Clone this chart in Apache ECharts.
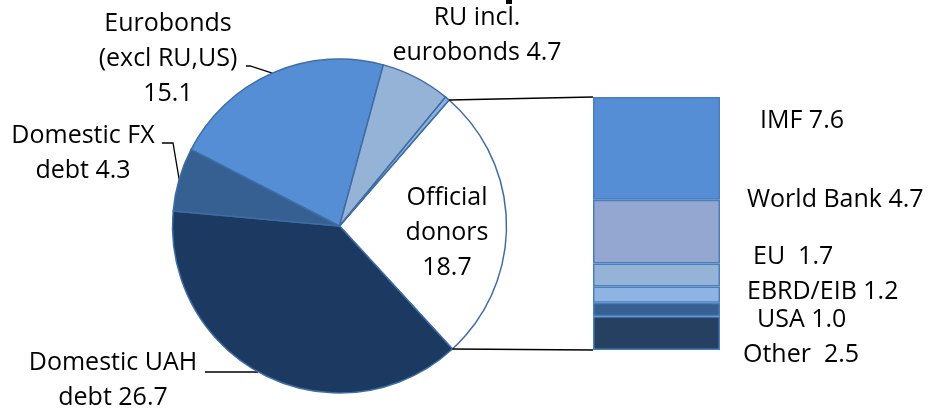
<!DOCTYPE html>
<html>
<head>
<meta charset="utf-8">
<script src="https://cdn.jsdelivr.net/npm/echarts@6/dist/echarts.min.js"></script>
<style>
  html, body { margin: 0; padding: 0; background: #fff; }
  #chart { width: 929px; height: 411px; }
</style>
</head>
<body>
<div id="chart"></div>
<script>
// Public debt composition (pie) with breakdown of official donors (stacked bar)
const pieNames = ['Official donors', 'Domestic UAH debt', 'Domestic FX debt', 'Eurobonds (excl RU,US)', 'RU incl. eurobonds', 'US-guaranteed eurobonds'];
const pieValues = [18.7, 26.7, 4.3, 15.1, 4.7, 0.3];
const pieLabelTemplates = ['Official\ndonors\n{v}', 'Domestic UAH\ndebt {v}', 'Domestic FX\ndebt {v}', 'Eurobonds\n(excl RU,US)\n{v}', 'RU incl.\neurobonds {v}', ''];
const pieColors = ['#ffffff', '#1c3961', '#376092', '#558ed5', '#95b3d7', '#8eb4e3'];

// Official donors breakdown, bottom to top
const donorNames = ['Other', 'USA', 'EBRD/EIB', 'EU', 'World Bank', 'IMF'];
const donorValues = [2.5, 1.0, 1.2, 1.7, 4.7, 7.6];
const donorGaps = ['  ', ' ', ' ', '  ', ' ', ' '];
const donorColors = ['#254061', '#376092', '#8eb4e3', '#95b3d7', '#94a7d0', '#558ed5'];

// Layout
const FONT = '"Open Sans", sans-serif';
const PIE_CX = 339.5, PIE_CY = 226, PIE_R = 167;
const PIE_START = 41; // degrees clockwise from 12 o'clock where the first slice begins
const BAR = { left: 593, top: 97, width: 127, height: 253 };

// label placement for each pie slice: centre x, centre y, leader line start / bend / end
const pieLabelPos = [
  { x: 447, y: 233 },
  { x: 113, y: 380, line: [[258, 372], [250, 372], [205, 372]] },
  { x: 83, y: 153.5, line: [null, [173, 143], [162, 143]] },
  { x: 168, y: 58.5, line: [null, [250, 66], [246, 66]] },
  { x: 477, y: 35 },
  null
];
// label placement for each bar segment: left x, centre y
const donorLabelPos = [
  { x: 743, y: 355 },
  { x: 757, y: 320 },
  { x: 747, y: 292 },
  { x: 753, y: 257 },
  { x: 747, y: 200 },
  { x: 760, y: 121 }
];

const donorTotal = donorValues.reduce((a, b) => a + b, 0);
const pieTotal = pieValues.reduce((a, b) => a + b, 0);

const chart = echarts.init(document.getElementById('chart'), null, { renderer: 'canvas' });

const textStyle = { fontFamily: FONT, fontSize: 25, color: '#000', lineHeight: 35 };

const pieSeries = {
  type: 'pie',
  center: [PIE_CX, PIE_CY],
  radius: PIE_R,
  startAngle: 90 - PIE_START,
  clockwise: true,
  avoidLabelOverlap: false,
  animation: false,
  silent: true,
  itemStyle: { borderColor: '#3e6da4', borderWidth: 1.5 },
  label: Object.assign({
    show: true,
    position: 'outside',
    align: 'center',
    formatter: p => pieLabelTemplates[p.dataIndex].replace('{v}', pieValues[p.dataIndex].toFixed(1))
  }, textStyle),
  labelLine: { show: true, length: 10, length2: 10, smooth: false, lineStyle: { color: '#000', width: 1.3 } },
  data: pieNames.map((n, i) => ({
    name: n,
    value: pieValues[i],
    itemStyle: { color: pieColors[i] },
    label: { show: pieLabelTemplates[i] !== '' },
    labelLine: { show: !!(pieLabelPos[i] && pieLabelPos[i].line) }
  })),
  labelLayout: function (params) {
    const pos = pieLabelPos[params.dataIndex];
    if (!pos) return {};
    const out = { x: pos.x, y: pos.y, align: 'center', verticalAlign: 'middle' };
    if (pos.line && params.labelLinePoints) {
      out.labelLinePoints = [pos.line[0] || params.labelLinePoints[0], pos.line[1], pos.line[2]];
    }
    return out;
  }
};

const barSeries = donorNames.map((n, i) => ({
  type: 'bar',
  name: n,
  stack: 'donors',
  barWidth: '100%',
  animation: false,
  silent: true,
  data: [donorValues[i]],
  itemStyle: { color: donorColors[i], borderColor: '#4a7ebb', borderWidth: 1.5 },
  label: Object.assign({
    show: true,
    position: 'right',
    formatter: () => n + donorGaps[i] + donorValues[i].toFixed(1)
  }, textStyle),
  labelLayout: function () {
    return { x: donorLabelPos[i].x, y: donorLabelPos[i].y, align: 'left', verticalAlign: 'middle' };
  }
}));

chart.setOption({
  backgroundColor: '#fff',
  grid: { left: BAR.left, top: BAR.top, width: BAR.width, height: BAR.height, containLabel: false },
  xAxis: { type: 'category', data: ['Official donors'], show: false },
  yAxis: { type: 'value', min: 0, max: donorTotal, show: false },
  series: [pieSeries].concat(barSeries)
});

// Connector lines from the official-donors slice edges to the bar's top and bottom
function piePoint(degFromTop) {
  const a = degFromTop * Math.PI / 180;
  return [PIE_CX + PIE_R * Math.sin(a), PIE_CY - PIE_R * Math.cos(a)];
}
const sliceStart = PIE_START;
const sliceEnd = PIE_START + 360 * pieValues[0] / pieTotal;
const barTopY = chart.convertToPixel({ yAxisIndex: 0 }, donorTotal);
const barBottomY = chart.convertToPixel({ yAxisIndex: 0 }, 0);
const p1 = piePoint(sliceStart), p2 = piePoint(sliceEnd);

chart.setOption({
  graphic: [
    { type: 'line', shape: { x1: p1[0], y1: p1[1], x2: BAR.left, y2: barTopY }, style: { stroke: '#000', lineWidth: 1.6 }, silent: true, z: 10 },
    { type: 'line', shape: { x1: p2[0], y1: p2[1], x2: BAR.left, y2: barBottomY }, style: { stroke: '#000', lineWidth: 1.6 }, silent: true, z: 10 },
    { type: 'rect', shape: { x: 506, y: 0, width: 6, height: 4 }, style: { fill: '#000' }, silent: true }
  ]
});
</script>
</body>
</html>
